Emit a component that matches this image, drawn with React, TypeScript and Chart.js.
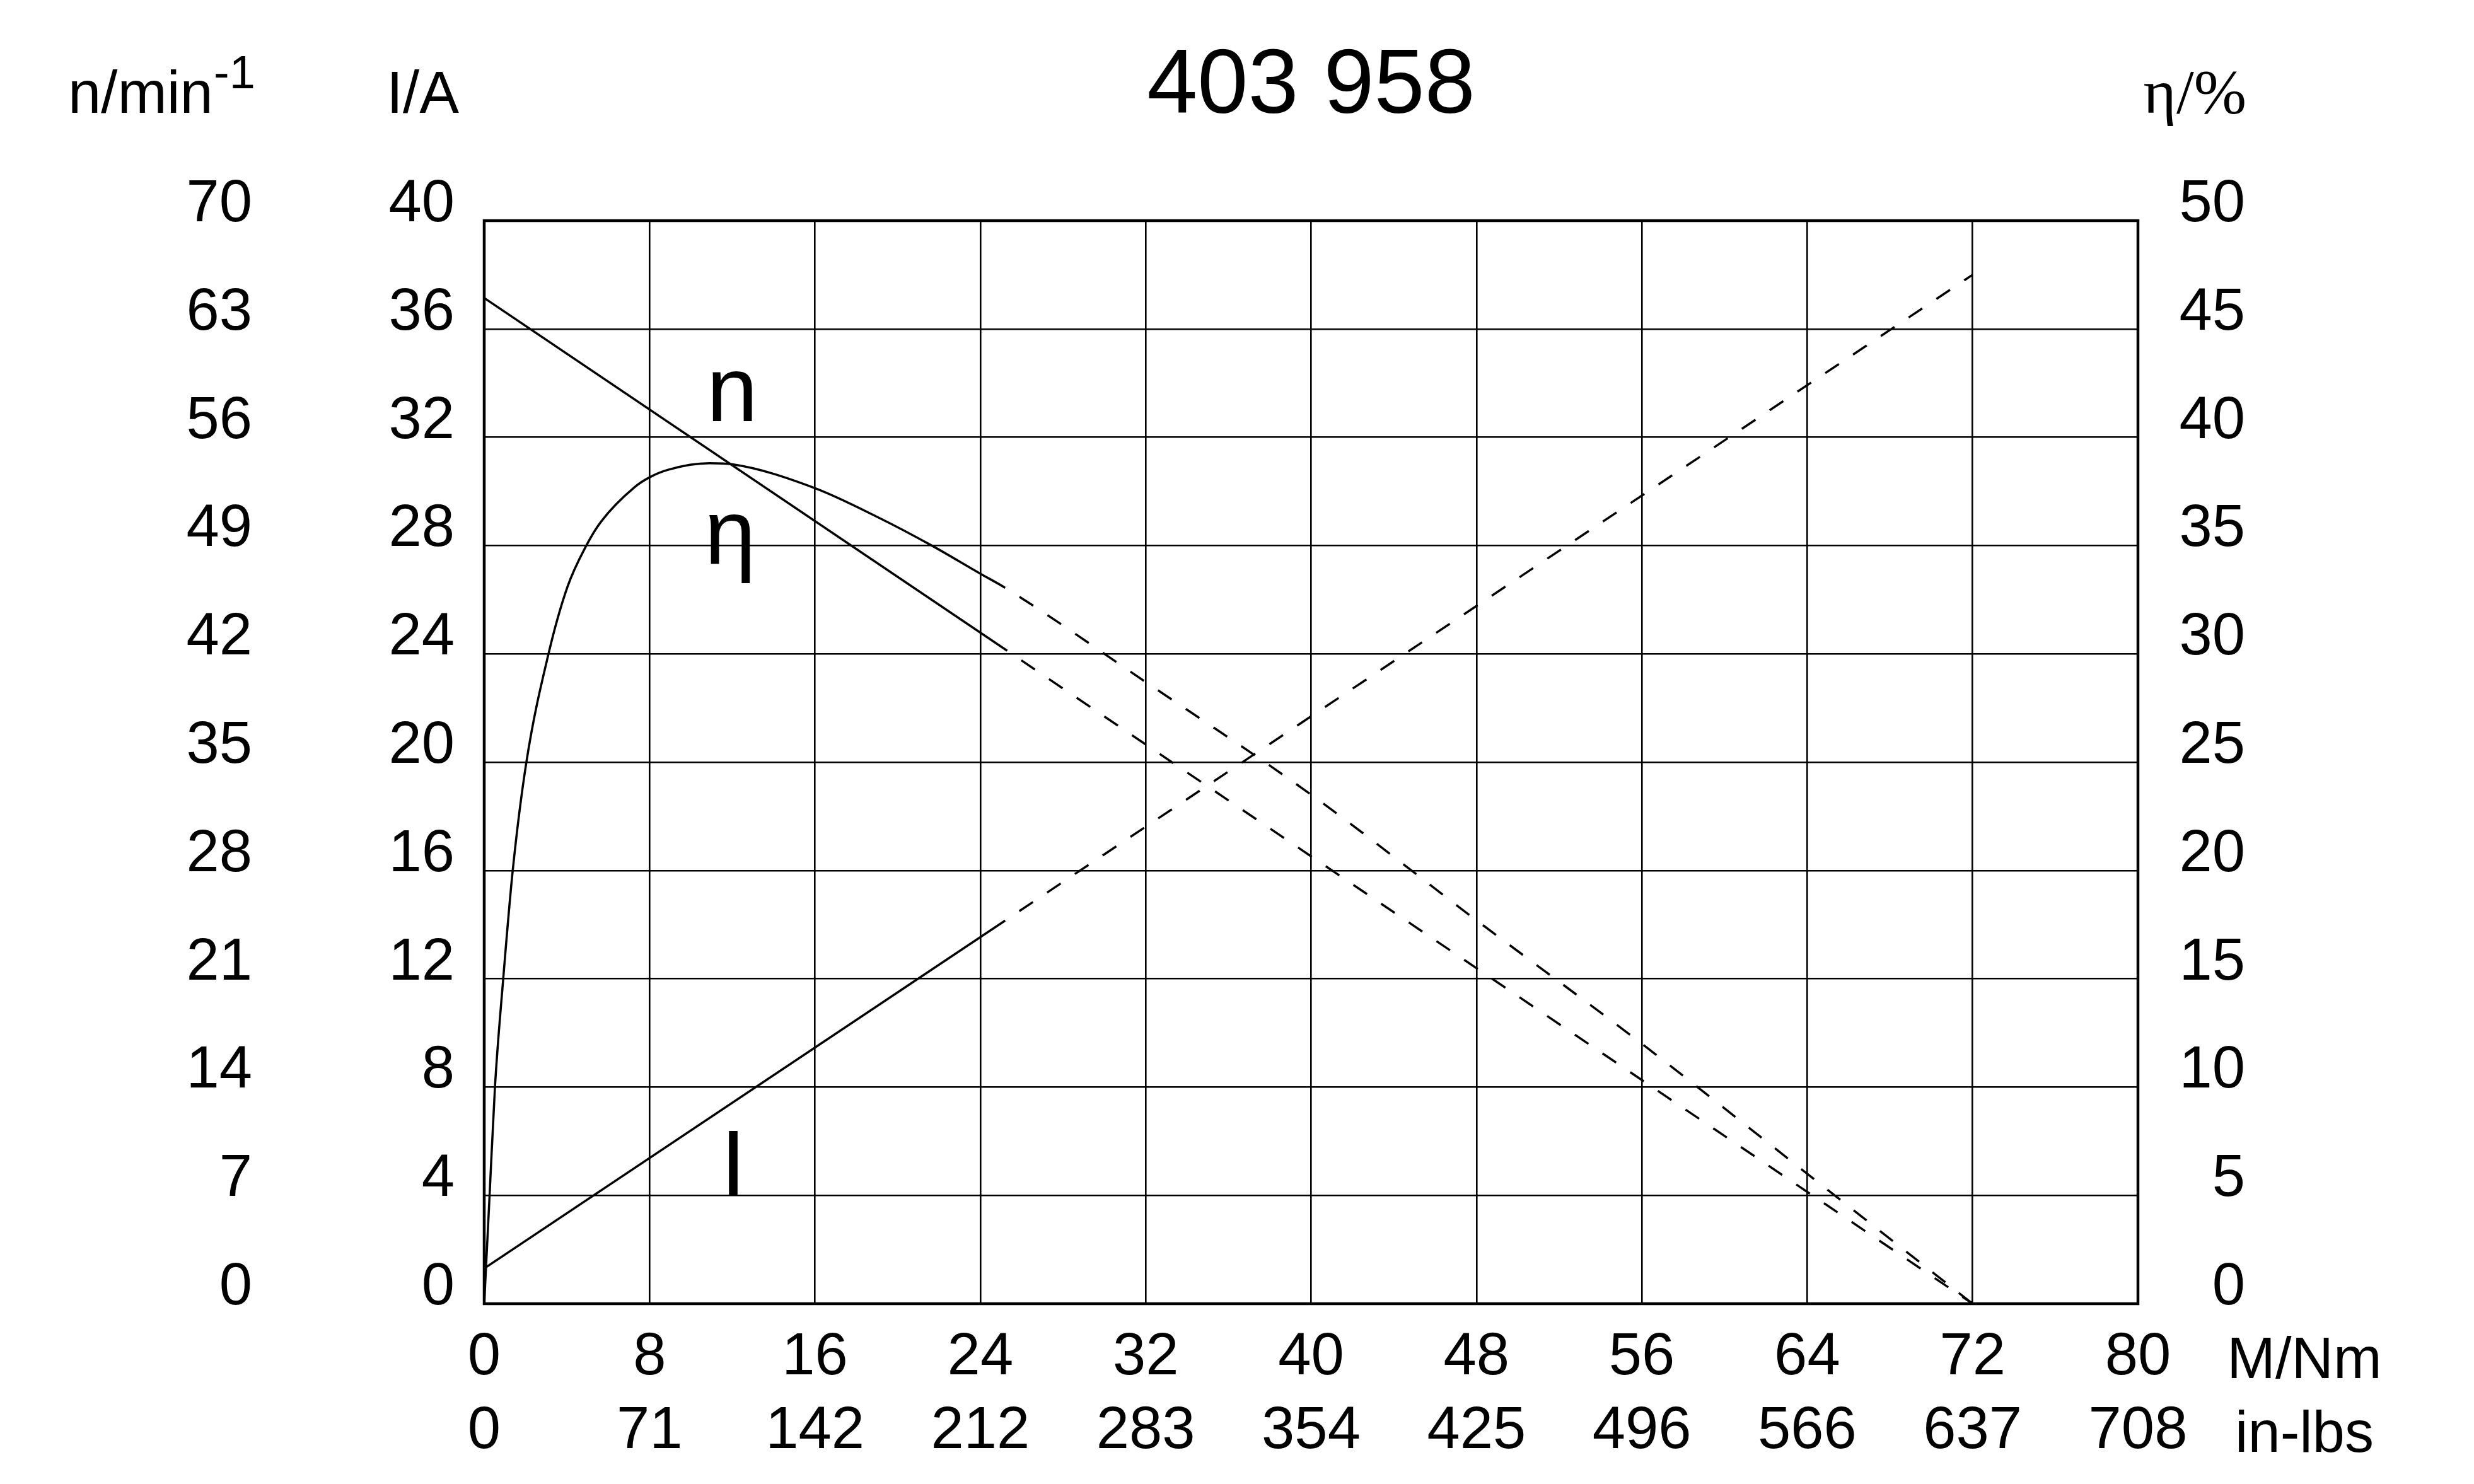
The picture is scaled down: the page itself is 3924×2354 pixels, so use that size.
import React, { useEffect, useRef } from 'react';
import { Chart, registerables } from 'chart.js';

Chart.register(...registerables);

// ---- Data ----
const TITLE = '403 958';
const torqueTicks = [0, 8, 16, 24, 32, 40, 48, 56, 64, 72, 80];
const inLbsTicks = ['0', '71', '142', '212', '283', '354', '425', '496', '566', '637', '708'];
const speedTicks = [0, 7, 14, 21, 28, 35, 42, 49, 56, 63, 70];
const currentTicks = [0, 4, 8, 12, 16, 20, 24, 28, 32, 36, 40];
const effTicks = [0, 5, 10, 15, 20, 25, 30, 35, 40, 45, 50];

// speed n (min^-1) vs torque M (Nm)
const speedTorque = [0, 25.3, 72];
const speedValues = [65, 42.2, 0];
// current I (A) vs torque
const currentTorque = [0, 25.2, 72];
const currentValues = [1.3, 14.15, 38.0];
// efficiency (%) vs torque
const effTorque = [0, 0.26, 0.52, 0.92, 1.38, 2.04, 3.11, 4.03, 4.94, 5.65, 7.28, 8, 8.9, 10.9, 12, 16, 19.06, 21.65, 24, 25.2, 32, 40, 48, 56, 64, 72];
const effValues = [0, 5, 10, 15, 20, 25, 30, 33.1, 35, 36.1, 37.7, 38.15, 38.5, 38.8, 38.75, 37.65, 36.3, 35.0, 33.7, 33.05, 28.7, 23.5, 17.7, 12.0, 6.0, 0];
// torque where the measured (solid) part ends and the dashed extrapolation begins
const speedSolidEnd = 25.3;
const currentSolidEnd = 25.2;
const effSolidEnd = 25.2;

const SANS = '"Liberation Sans", Arial, Helvetica, sans-serif';
const SERIF = '"Liberation Serif", "Times New Roman", serif';
const DASH = [26, 27];
const DASH_OFFSET = 26;

function toPoints(xs: number[], ys: number[]) {
  return xs.map((x, i) => ({ x, y: ys[i] }));
}

const textPlugin = {
  id: 'motorTexts',
  afterDraw(chart: any) {
    const { ctx, chartArea, scales } = chart;
    const sx = scales.x;
    const sy = scales.yI;
    ctx.save();
    // frame
    ctx.strokeStyle = '#000';
    ctx.lineWidth = 4.5;
    ctx.strokeRect(chartArea.left, chartArea.top, chartArea.right - chartArea.left, chartArea.bottom - chartArea.top);

    ctx.fillStyle = '#000';
    ctx.textBaseline = 'alphabetic';

    // title
    ctx.font = `144px ${SANS}`;
    ctx.textAlign = 'center';
    ctx.fillText(TITLE, (chartArea.left + chartArea.right) / 2, 179);

    // axis unit labels
    ctx.font = `94px ${SANS}`;
    ctx.textAlign = 'left';
    ctx.fillText('n/min', 108, 179);
    ctx.font = `74px ${SANS}`;
    ctx.fillText('-1', 339, 140);
    ctx.font = `94px ${SANS}`;
    ctx.fillText('I/A', 613, 179);

    ctx.font = `100px ${SERIF}`;
    ctx.textAlign = 'right';
    ctx.fillText('η/%', 3563, 179);

    ctx.font = `92px ${SANS}`;
    ctx.textAlign = 'center';
    ctx.fillText('M/Nm', 3655, 2186);
    ctx.fillText('in-lbs', 3655, 2303);

    // curve labels
    ctx.font = `146px ${SANS}`;
    ctx.textAlign = 'center';
    ctx.fillText('n', sx.getPixelForValue(12.0), sy.getPixelForValue(32.6));
    ctx.fillText('η', sx.getPixelForValue(11.9), sy.getPixelForValue(27.3));
    ctx.fillText('I', sx.getPixelForValue(12.05), sy.getPixelForValue(4.02));
    ctx.restore();
  },
};

function dashAfter(limit: number) {
  return (c: any) => (c.p0.parsed.x >= limit - 1e-6 ? DASH : undefined);
}
function dashOffsetAfter(limit: number) {
  return (c: any) => (c.p0.parsed.x >= limit - 1e-6 ? DASH_OFFSET : undefined);
}

export default function App() {
  const canvasRef = useRef<HTMLCanvasElement | null>(null);

  useEffect(() => {
    document.body.style.margin = '0';
    document.body.style.overflow = 'hidden';
    const canvas = canvasRef.current;
    if (!canvas) return;

    const tickFont = { family: SANS, size: 94 };
    const gridColor = '#000';
    const LABEL_OFFSET = -25;

    const chart = new Chart(canvas, {
      type: 'line',
      data: {
        datasets: [
          {
            label: 'n',
            data: toPoints(speedTorque, speedValues),
            yAxisID: 'yN',
            borderColor: '#000',
            borderWidth: 3.5,
            pointRadius: 0,
            fill: false,
            tension: 0,
            segment: { borderDash: dashAfter(speedSolidEnd), borderDashOffset: dashOffsetAfter(speedSolidEnd) },
          },
          {
            label: 'I',
            data: toPoints(currentTorque, currentValues),
            yAxisID: 'yI',
            borderColor: '#000',
            borderWidth: 3.5,
            pointRadius: 0,
            fill: false,
            tension: 0,
            segment: { borderDash: dashAfter(currentSolidEnd), borderDashOffset: dashOffsetAfter(currentSolidEnd) },
          },
          {
            label: 'η',
            data: toPoints(effTorque, effValues),
            yAxisID: 'yE',
            borderColor: '#000',
            borderWidth: 3.5,
            pointRadius: 0,
            fill: false,
            cubicInterpolationMode: 'monotone',
            segment: { borderDash: dashAfter(effSolidEnd), borderDashOffset: dashOffsetAfter(effSolidEnd) },
          },
        ],
      },
      options: {
        responsive: false,
        animation: false,
        events: [],
        layout: { padding: { left: 0, right: 363, top: 350, bottom: 0 } },
        plugins: {
          legend: { display: false },
          tooltip: { enabled: false },
          title: { display: false },
        },
        scales: {
          x: {
            type: 'linear',
            min: 0,
            max: 80,
            afterBuildTicks: (s: any) => {
              s.ticks = torqueTicks.map((v) => ({ value: v }));
            },
            afterFit: (s: any) => {
              s.height = 286;
            },
            grid: { color: gridColor, lineWidth: 2.6, drawTicks: false },
            border: { display: false },
            ticks: {
              autoSkip: false,
              maxRotation: 0,
              minRotation: 0,
              padding: 28,
              color: '#000',
              font: { ...tickFont, lineHeight: 117 / 94 },
              callback: (_v: any, i: number) => [String(torqueTicks[i]), inLbsTicks[i]],
            },
          },
          yI: {
            type: 'linear',
            position: 'left',
            weight: 0,
            min: 0,
            max: 40,
            afterBuildTicks: (s: any) => {
              s.ticks = currentTicks.map((v) => ({ value: v }));
            },
            afterFit: (s: any) => {
              s.width = 358;
            },
            grid: { color: gridColor, lineWidth: 2.6, drawTicks: false },
            border: { display: false },
            ticks: {
              autoSkip: false,
              padding: 47,
              labelOffset: LABEL_OFFSET,
              color: '#000',
              font: tickFont,
              callback: (v: any) => String(Math.round(v)),
            },
          },
          yN: {
            type: 'linear',
            position: 'left',
            weight: 1,
            min: 0,
            max: 70,
            afterBuildTicks: (s: any) => {
              s.ticks = speedTicks.map((v) => ({ value: v }));
            },
            afterFit: (s: any) => {
              s.width = 410;
            },
            grid: { display: false, drawTicks: false },
            border: { display: false },
            ticks: {
              autoSkip: false,
              padding: 10,
              labelOffset: LABEL_OFFSET,
              color: '#000',
              font: tickFont,
              callback: (v: any) => String(Math.round(v)),
            },
          },
          yE: {
            type: 'linear',
            position: 'right',
            min: 0,
            max: 50,
            afterBuildTicks: (s: any) => {
              s.ticks = effTicks.map((v) => ({ value: v }));
            },
            afterFit: (s: any) => {
              s.width = 170;
            },
            grid: { display: false, drawTicks: false },
            border: { display: false },
            ticks: {
              autoSkip: false,
              padding: 0,
              crossAlign: 'far',
              labelOffset: LABEL_OFFSET,
              color: '#000',
              font: tickFont,
              callback: (v: any) => String(Math.round(v)),
            },
          },
        },
      } as any,
      plugins: [textPlugin],
    });

    return () => {
      chart.destroy();
    };
  }, []);

  return (
    <div style={{ position: 'absolute', left: 0, top: 0, width: 3924, height: 2354, background: '#fff' }}>
      <canvas ref={canvasRef} width={3924} height={2354} style={{ display: 'block', width: 3924, height: 2354 }} />
    </div>
  );
}
